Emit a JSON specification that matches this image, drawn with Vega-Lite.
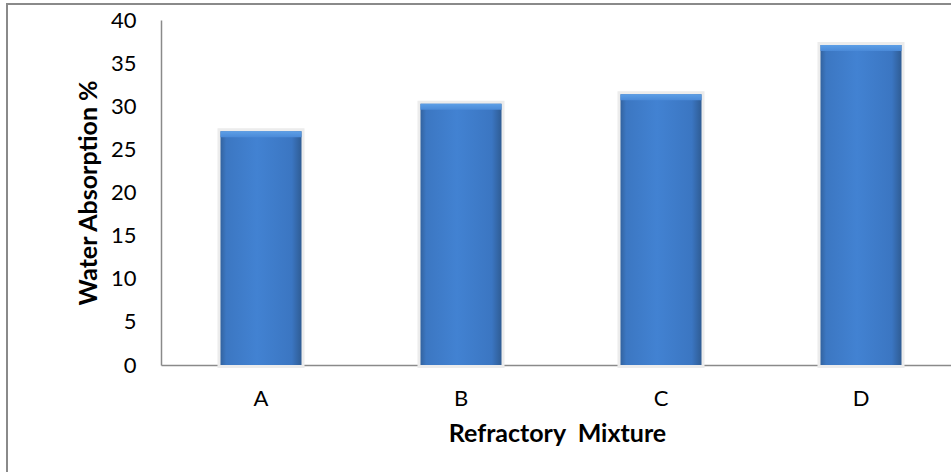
{
  "$schema": "https://vega.github.io/schema/vega-lite/v6.json",
  "width": 960,
  "height": 480,
  "autosize": {"type": "none"},
  "padding": {"left": 7, "top": 4, "right": 0, "bottom": 0},
  "background": "white",
  "config": {
    "font": "Lato",
    "view": {"stroke": "#8a8a8a", "strokeWidth": 2}
  },
  "data": {
    "values": [
      {"mixture": "A", "absorption": 27.1},
      {"mixture": "B", "absorption": 30.3},
      {"mixture": "C", "absorption": 31.4},
      {"mixture": "D", "absorption": 37.1}
    ]
  },
  "encoding": {
    "x": {
      "field": "mixture",
      "type": "nominal",
      "sort": null,
      "scale": {"range": [154, 954], "paddingInner": 0.595, "paddingOuter": 0.2975},
      "axis": {
        "title": "Refractory\u00a0 Mixture",
        "titleX": 550,
        "offset": -119,
        "labelAngle": 0,
        "ticks": false,
        "grid": false,
        "domainColor": "#8a8a8a",
        "domainWidth": 1.5,
        "labelFont": "Lato",
        "labelFontSize": 22,
        "labelColor": "#000000",
        "labelPadding": 23,
        "titleFont": "Lato",
        "titleFontSize": 25,
        "titleFontWeight": "bold",
        "titleColor": "#000000",
        "titlePadding": 12
      }
    },
    "y": {
      "field": "absorption",
      "type": "quantitative",
      "scale": {"domain": [0, 40], "range": [361, 16], "nice": false, "zero": true},
      "axis": {
        "title": "Water Absorption %",
        "offset": -154,
        "values": [0, 5, 10, 15, 20, 25, 30, 35, 40],
        "ticks": false,
        "grid": false,
        "domainColor": "#8a8a8a",
        "domainWidth": 1.5,
        "labelFont": "Lato",
        "labelFontSize": 22,
        "labelColor": "#000000",
        "labelPadding": 25,
        "titleFont": "Lato",
        "titleFontSize": 25,
        "titleFontWeight": "bold",
        "titleColor": "#000000",
        "titlePadding": 9
      }
    }
  },
  "layer": [
    {
      "mark": {"type": "bar", "fill": "#ececec", "stroke": "#ececec", "strokeWidth": 6}
    },
    {
      "mark": {
        "type": "bar",
        "fill": {
          "gradient": "linear",
          "x1": 0, "y1": 0, "x2": 1, "y2": 0,
          "stops": [
            {"offset": 0, "color": "#33639f"},
            {"offset": 0.07, "color": "#3c77c2"},
            {"offset": 0.45, "color": "#4282d2"},
            {"offset": 0.88, "color": "#3b76c2"},
            {"offset": 1, "color": "#2f5c94"}
          ]
        }
      }
    },
    {
      "mark": {
        "type": "tick",
        "size": 81,
        "thickness": 6,
        "yOffset": 3,
        "fill": {
          "gradient": "linear",
          "x1": 0, "y1": 0, "x2": 0, "y2": 1,
          "stops": [
            {"offset": 0, "color": "#5d9fe6"},
            {"offset": 1, "color": "#4a8ad8"}
          ]
        },
        "opacity": 1
      }
    }
  ]
}
